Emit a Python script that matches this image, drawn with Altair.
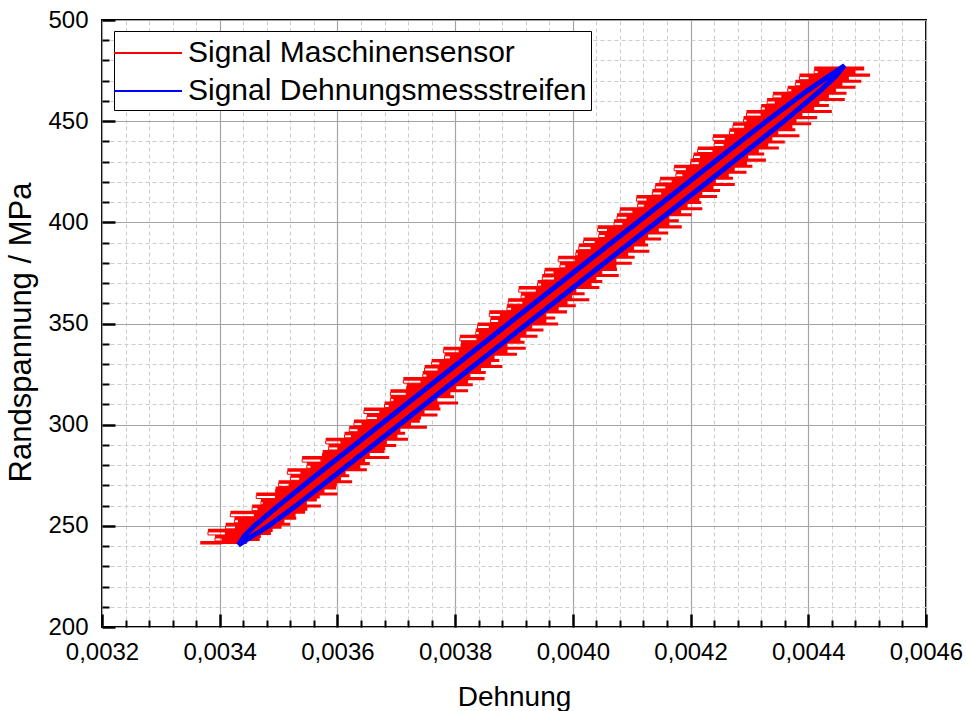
import altair as alt
import pandas as pd

# ---------------- data ----------------
# Signal Maschinensensor: noisy band, outer (spike) strain edges per stress level (MPa)
red_y = [241, 244, 247, 250, 253, 256, 259, 262, 265, 268,
         271, 274, 277, 280, 283, 286, 289, 292, 295, 298,
         301, 304, 307, 310, 313, 316, 319, 322, 325, 328,
         331, 334, 337, 340, 343, 346, 349, 352, 355, 358,
         361, 364, 367, 370, 373, 376, 379, 382, 385, 388,
         391, 394, 397, 400, 403, 406, 409, 412, 415, 418,
         421, 424, 427, 430, 433, 436, 439, 442, 445, 448,
         451, 454, 457, 460, 463, 466, 469, 472, 475, 477]
red_left = [0.003367, 0.003392, 0.003380, 0.003410, 0.003425, 0.003418, 0.003455, 0.003470, 0.003462, 0.003495,
            0.003500, 0.003520, 0.003515, 0.003548, 0.003540, 0.003575, 0.003585, 0.003580, 0.003612, 0.003620,
            0.003628, 0.003650, 0.003645, 0.003680, 0.003690, 0.003690, 0.003718, 0.003712, 0.003745, 0.003748,
            0.003760, 0.003782, 0.003780, 0.003810, 0.003808, 0.003835, 0.003838, 0.003860, 0.003858, 0.003888,
            0.003890, 0.003912, 0.003908, 0.003940, 0.003948, 0.003952, 0.003978, 0.003975, 0.004005, 0.004010,
            0.004018, 0.004044, 0.004042, 0.004070, 0.004075, 0.004080, 0.004110, 0.004108, 0.004135, 0.004140,
            0.004148, 0.004175, 0.004172, 0.004200, 0.004205, 0.004212, 0.004240, 0.004238, 0.004266, 0.004272,
            0.004290, 0.004295, 0.004320, 0.004330, 0.004340, 0.004365, 0.004378, 0.004385, 0.004410, 0.004418]
red_right = [0.003446, 0.003470, 0.003490, 0.003520, 0.003530, 0.003545, 0.003572, 0.003565, 0.003600, 0.003598,
             0.003625, 0.003620, 0.003650, 0.003655, 0.003688, 0.003680, 0.003700, 0.003720, 0.003715, 0.003752,
             0.003740, 0.003770, 0.003775, 0.003805, 0.003798, 0.003822, 0.003830, 0.003850, 0.003852, 0.003880,
             0.003875, 0.003905, 0.003920, 0.003918, 0.003940, 0.003950, 0.003975, 0.003970, 0.003990, 0.004005,
             0.004028, 0.004020, 0.004045, 0.004050, 0.004078, 0.004075, 0.004100, 0.004105, 0.004130, 0.004128,
             0.004150, 0.004162, 0.004185, 0.004180, 0.004202, 0.004220, 0.004218, 0.004245, 0.004250, 0.004275,
             0.004272, 0.004295, 0.004305, 0.004328, 0.004325, 0.004350, 0.004360, 0.004385, 0.004378, 0.004405,
             0.004415, 0.004440, 0.004435, 0.004462, 0.004465, 0.004480, 0.004490, 0.004505, 0.004495, 0.004513]

# inner (core) strain edges between the spikes
red_y_inner = [242.5, 245.5, 248.5, 251.5, 254.5, 257.5, 260.5, 263.5, 266.5, 269.5,
               272.5, 275.5, 278.5, 281.5, 284.5, 287.5, 290.5, 293.5, 296.5, 299.5,
               302.5, 305.5, 308.5, 311.5, 314.5, 317.5, 320.5, 323.5, 326.5, 329.5,
               332.5, 335.5, 338.5, 341.5, 344.5, 347.5, 350.5, 353.5, 356.5, 359.5,
               362.5, 365.5, 368.5, 371.5, 374.5, 377.5, 380.5, 383.5, 386.5, 389.5,
               392.5, 395.5, 398.5, 401.5, 404.5, 407.5, 410.5, 413.5, 416.5, 419.5,
               422.5, 425.5, 428.5, 431.5, 434.5, 437.5, 440.5, 443.5, 446.5, 449.5,
               452.5, 455.5, 458.5, 461.5, 464.5, 467.5, 470.5, 473.5]
red_left_inner = [0.003403, 0.003409, 0.003426, 0.003431, 0.003458, 0.003464, 0.003473, 0.003494, 0.003495, 0.003517,
                  0.003535, 0.003537, 0.003554, 0.003571, 0.003574, 0.003600, 0.003605, 0.003623, 0.003634, 0.003641,
                  0.003667, 0.003671, 0.003687, 0.003695, 0.003716, 0.003717, 0.003741, 0.003751, 0.003770, 0.003773,
                  0.003791, 0.003806, 0.003810, 0.003836, 0.003840, 0.003857, 0.003873, 0.003876, 0.003895, 0.003914,
                  0.003918, 0.003937, 0.003946, 0.003968, 0.003967, 0.003987, 0.004003, 0.004008, 0.004030, 0.004037,
                  0.004054, 0.004058, 0.004084, 0.004091, 0.004101, 0.004121, 0.004125, 0.004150, 0.004157, 0.004168,
                  0.004186, 0.004192, 0.004214, 0.004216, 0.004237, 0.004256, 0.004258, 0.004274, 0.004291, 0.004295,
                  0.004319, 0.004326, 0.004343, 0.004354, 0.004371, 0.004386, 0.004401, 0.004416]
red_right_inner = [0.003468, 0.003487, 0.003505, 0.003510, 0.003529, 0.003549, 0.003548, 0.003570, 0.003578, 0.003599,
                   0.003606, 0.003614, 0.003639, 0.003647, 0.003655, 0.003681, 0.003684, 0.003702, 0.003707, 0.003725,
                   0.003742, 0.003748, 0.003773, 0.003770, 0.003792, 0.003802, 0.003822, 0.003826, 0.003844, 0.003861,
                   0.003867, 0.003889, 0.003889, 0.003911, 0.003921, 0.003931, 0.003955, 0.003955, 0.003976, 0.003991,
                   0.003999, 0.004006, 0.004032, 0.004040, 0.004050, 0.004074, 0.004074, 0.004094, 0.004104, 0.004123,
                   0.004128, 0.004146, 0.004164, 0.004164, 0.004184, 0.004195, 0.004215, 0.004220, 0.004239, 0.004243,
                   0.004265, 0.004275, 0.004296, 0.004298, 0.004316, 0.004332, 0.004339, 0.004349, 0.004373, 0.004380,
                   0.004390, 0.004410, 0.004419, 0.004435, 0.004447, 0.004458, 0.004469, 0.004480]

# Signal Dehnungsmessstreifen: narrow hysteresis loop (in drawing order)
blue_x = [0.0034316, 0.003456, 0.003483, 0.003530, 0.003596, 0.003705, 0.003814, 0.003923,
          0.004032, 0.004142, 0.004251, 0.004359, 0.004420, 0.004446, 0.0044616,
          0.004434, 0.004398, 0.004329, 0.004219, 0.004110, 0.004000, 0.003891, 0.003782,
          0.003673, 0.003564, 0.003500, 0.003459, 0.003442, 0.0034316]
blue_y = [240.5, 245, 250, 260, 275, 300, 325, 350,
          375, 400, 425, 450, 465, 472, 477.5,
          472, 465, 450, 425, 400, 375, 350, 325,
          300, 275, 260, 250, 245, 240.5]

series_names = ["Signal Maschinensensor", "Signal Dehnungsmessstreifen"]
series_colors = ["#ff0000", "#0000ff"]

x_major = [0.0032, 0.0034, 0.0036, 0.0038, 0.0040, 0.0042, 0.0044, 0.0046]
y_major = [200, 250, 300, 350, 400, 450, 500]
x_minor = [round(0.0032 + 0.00004 * i, 6) for i in range(36) if i % 5]
y_minor = [200 + 10 * i for i in range(31) if i % 5]

# ---------------- layout ----------------
W, H = 824, 607
FONT = "Liberation Sans"
MAJOR_GRID = "#a4a4a4"
MINOR_GRID = "#cccccc"

red_df = pd.concat([
    pd.DataFrame({"y": red_y, "xl": red_left, "xr": red_right}),
    pd.DataFrame({"y": red_y_inner, "xl": red_left_inner, "xr": red_right_inner}),
]).sort_values("y").reset_index(drop=True)
red_df["series"] = series_names[0]
blue_df = pd.DataFrame({"i": list(range(len(blue_x))), "x": blue_x, "y": blue_y,
                        "series": series_names[1]})

xscale = alt.Scale(domain=[0.0032, 0.0046], nice=False, zero=False)
yscale = alt.Scale(domain=[200, 500], nice=False, zero=False)
cscale = alt.Scale(domain=series_names, range=series_colors)

label_expr = "replace(format(datum.value, '.4f'), '.', ',')"

axis_x_main = alt.Axis(orient="bottom", values=x_major, labelExpr=label_expr,
                       title="Dehnung", ticks=False, tickSize=0, domain=False,
                       grid=True, gridColor=MAJOR_GRID, gridWidth=1.2,
                       labelFont=FONT, labelFontSize=24, labelColor="black",
                       labelPadding=13, labelFlush=False,
                       titleFont=FONT, titleFontSize=28, titleFontWeight="normal",
                       titleColor="black", titleBaseline="alphabetic", titleY=78)
axis_y_main = alt.Axis(orient="left", values=y_major, title="Randspannung / MPa",
                       ticks=False, tickSize=0, domain=False,
                       grid=True, gridColor=MAJOR_GRID, gridWidth=1.2,
                       labelFont=FONT, labelFontSize=24, labelColor="black",
                       labelPadding=14, labelFlush=False,
                       titleFont=FONT, titleFontSize=31, titleFontWeight="normal",
                       titleColor="black", titleBaseline="alphabetic",
                       titleAngle=270, titleX=-72, titleY=312)
axis_x_minor = alt.Axis(orient="top", offset=-H, values=x_minor, labels=False,
                        tickSize=7, tickWidth=2, tickColor="black", domain=False,
                        grid=True, gridColor=MINOR_GRID, gridDash=[4, 3], gridWidth=1,
                        title=None)
axis_y_minor = alt.Axis(orient="right", offset=-W, values=y_minor, labels=False,
                        tickSize=7, tickWidth=2, tickColor="black", domain=False,
                        grid=True, gridColor=MINOR_GRID, gridDash=[4, 3], gridWidth=1,
                        title=None)
axis_x_ticks = alt.Axis(orient="top", offset=-H, values=x_major, labels=False,
                        tickSize=13, tickWidth=2.5, tickColor="black", domain=False,
                        grid=False, title=None)
axis_y_ticks = alt.Axis(orient="right", offset=-W, values=y_major, labels=False,
                        tickSize=13, tickWidth=2.5, tickColor="black", domain=False,
                        grid=False, title=None)

# legend symbol: a horizontal stroke twice as long as the symbol's nominal width
legend = alt.Legend(orient="none", legendX=12, legendY=11, title=None,
                    symbolType="M-2,0H2", symbolSize=1156, symbolStrokeWidth=2,
                    symbolOffset=12, labelOffset=22,
                    labelFont=FONT, labelFontSize=30, labelColor="black",
                    strokeColor="black", fillColor="white",
                    padding=4, rowPadding=5, labelLimit=600)

red_line = alt.Chart(red_df).mark_line(interpolate="step-after", strokeWidth=1).encode(
    x=alt.X("xl:Q", scale=xscale, axis=axis_x_minor),
    y=alt.Y("y:Q", scale=yscale, axis=axis_y_minor),
    order=alt.Order("y:Q"),
    color=alt.Color("series:N", scale=cscale, legend=legend),
)

red_area = alt.Chart(red_df).mark_area(orient="horizontal", interpolate="step-after",
                                       color="#ff0000", opacity=1).encode(
    x=alt.X("xl:Q", scale=xscale, axis=axis_x_main),
    x2="xr:Q",
    y=alt.Y("y:Q", scale=yscale, axis=axis_y_main),
)

blue_line = alt.Chart(blue_df).mark_line(strokeWidth=5).encode(
    x=alt.X("x:Q", scale=xscale, axis=axis_x_ticks),
    y=alt.Y("y:Q", scale=yscale, axis=axis_y_ticks),
    order=alt.Order("i:Q"),
    color=alt.Color("series:N", scale=cscale, legend=legend),
)

chart = alt.layer(red_line, red_area, blue_line).resolve_axis(
    x="independent", y="independent"
).properties(
    width=W, height=H,
    autosize=alt.AutoSizeParams(type="none"),
    padding={"left": 102, "top": 20, "right": 40, "bottom": 84},
    background="white",
).configure_view(stroke="black", strokeWidth=2)

chart.save("out.html", embed_options={"renderer": "svg", "actions": False})
